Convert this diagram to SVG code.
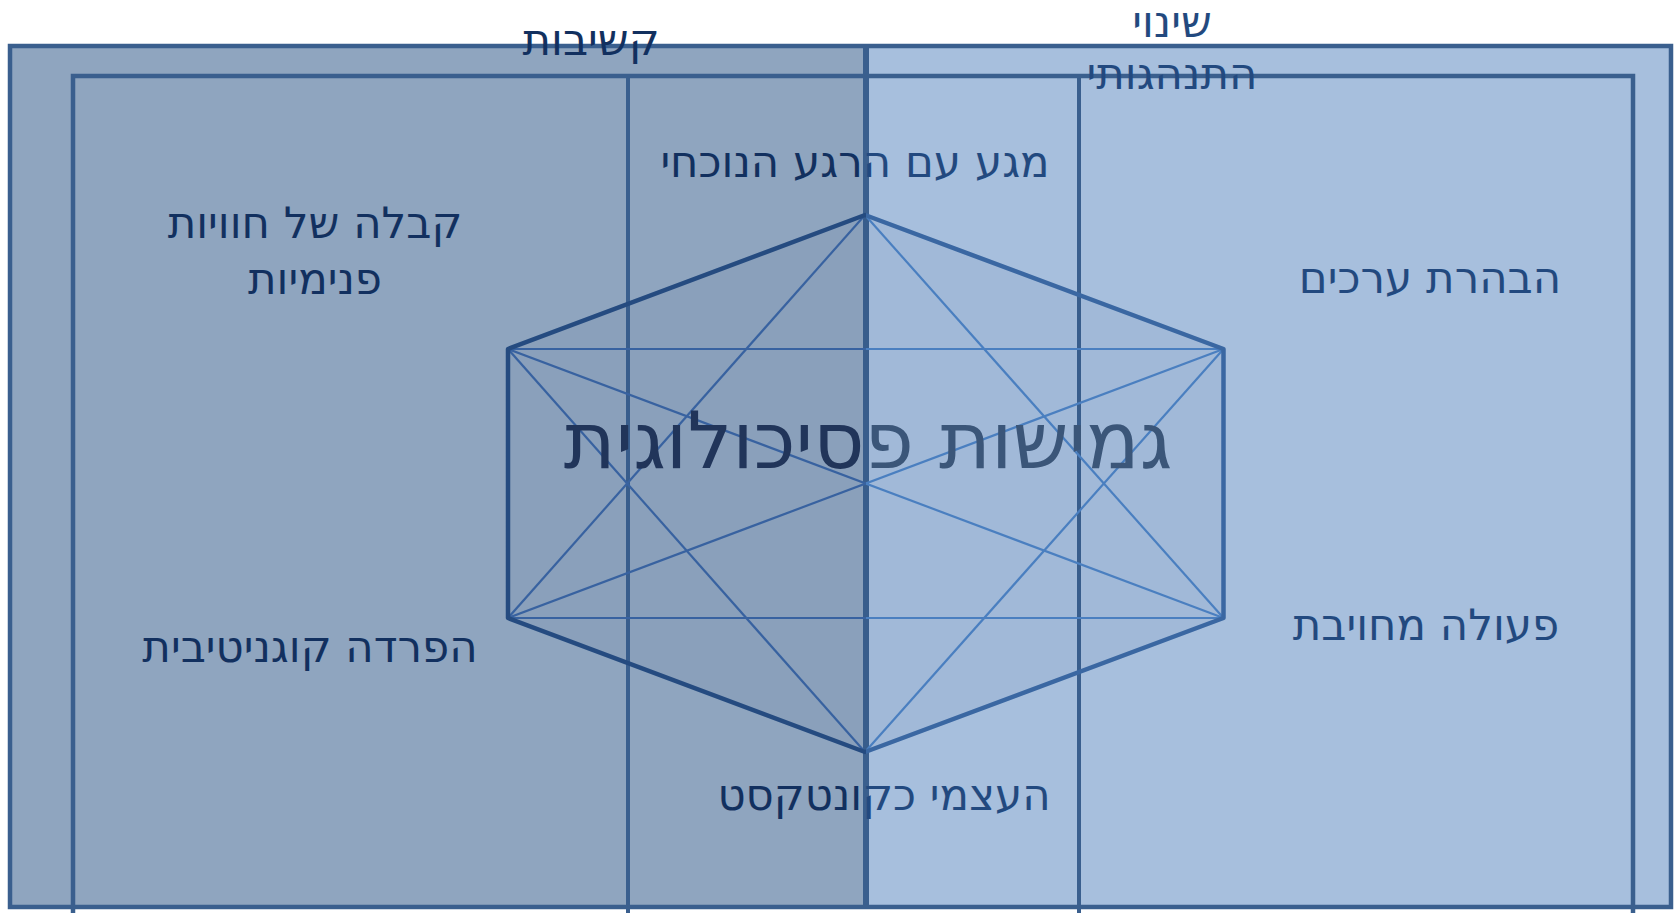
<svg xmlns="http://www.w3.org/2000/svg" width="1677" height="913" viewBox="0 0 1677 913">
<defs>
<linearGradient id="gEdge" gradientUnits="userSpaceOnUse" x1="0" y1="0" x2="1677" y2="0">
<stop offset="0.5164" stop-color="#254b80"/><stop offset="0.5164" stop-color="#3a67a2"/>
</linearGradient>
<linearGradient id="gInner" gradientUnits="userSpaceOnUse" x1="0" y1="0" x2="1677" y2="0">
<stop offset="0.5164" stop-color="#3862a0"/><stop offset="0.5164" stop-color="#4a7fc0"/>
</linearGradient>
<linearGradient id="gLabel" gradientUnits="userSpaceOnUse" x1="0" y1="0" x2="1677" y2="0">
<stop offset="0.5164" stop-color="#12305f"/><stop offset="0.5164" stop-color="#22497f"/>
</linearGradient>
<linearGradient id="gTitle" gradientUnits="userSpaceOnUse" x1="0" y1="0" x2="1677" y2="0">
<stop offset="0.5164" stop-color="#21355a"/><stop offset="0.5164" stop-color="#3b5679"/>
</linearGradient>
</defs>
<style>
.frame{fill:none;stroke:#3a5f8e;stroke-width:4.5}
.vline{stroke:#3a5f8e;stroke-width:4}
.edge{stroke:url(#gEdge);stroke-width:4.5;fill:none;stroke-linejoin:round}
.inner{stroke:url(#gInner);stroke-width:2.2;fill:none}
.lbl{font-family:"DejaVu Sans","Noto Sans",sans-serif;font-size:43.5px;fill:url(#gLabel);text-anchor:middle}
.title{font-family:"DejaVu Sans","Noto Sans",sans-serif;font-size:79px;fill:url(#gTitle);text-anchor:middle}
</style>
<g id="background">
<rect x="10" y="46" width="856" height="861" fill="#8fa5bf"/>
<rect x="866" y="46" width="805" height="861" fill="#a7bfdd"/>
</g>
<g id="frames">
<rect class="frame" x="10" y="46" width="1661" height="861"/>
<path class="frame" d="M73,918 V76 H1633 V918"/>
<line class="vline" x1="628" y1="76" x2="628" y2="913"/>
<line class="vline" x1="1079" y1="76" x2="1079" y2="913"/>
<line x1="866" y1="44" x2="866" y2="909" stroke="#3a5f8e" stroke-width="6"/>
</g>
<g id="connectors">
<polygon points="865,215 1223.5,349 1223.5,618 865,752 508,618 508,349" fill="#1a3a6a" fill-opacity="0.04" stroke="none"/>
<line class="inner" x1="508" y1="349" x2="1223.5" y2="349"/>
<line class="inner" x1="508" y1="618" x2="1223.5" y2="618"/>
<line class="inner" x1="508" y1="349" x2="1223.5" y2="618"/>
<line class="inner" x1="508" y1="618" x2="1223.5" y2="349"/>
<line class="inner" x1="865" y1="215" x2="508" y2="618"/>
<line class="inner" x1="865" y1="215" x2="1223.5" y2="618"/>
<line class="inner" x1="865" y1="752" x2="508" y2="349"/>
<line class="inner" x1="865" y1="752" x2="1223.5" y2="349"/>
<polygon class="edge" points="865,215 1223.5,349 1223.5,618 865,752 508,618 508,349"/>
</g>
<g id="node-title"><text class="title" x="868" y="468">גמישות פסיכולוגית</text></g>
<g id="node-attention"><text class="lbl" x="591" y="55">קשיבות</text></g>
<g id="node-behavior"><text class="lbl" x="1172" y="37">שינוי</text><text class="lbl" x="1172" y="89">התנהגותי</text></g>
<g id="node-present"><text class="lbl" x="855" y="177">מגע עם הרגע הנוכחי</text></g>
<g id="node-acceptance"><text class="lbl" x="315" y="238">קבלה של חוויות</text><text class="lbl" x="315" y="294">פנימיות</text></g>
<g id="node-values"><text class="lbl" x="1430" y="293">הבהרת ערכים</text></g>
<g id="node-defusion"><text class="lbl" x="310" y="662">הפרדה קוגניטיבית</text></g>
<g id="node-action"><text class="lbl" x="1426" y="640">פעולה מחויבת</text></g>
<g id="node-self"><text class="lbl" x="884" y="810">העצמי כקונטקסט</text></g>
</svg>
